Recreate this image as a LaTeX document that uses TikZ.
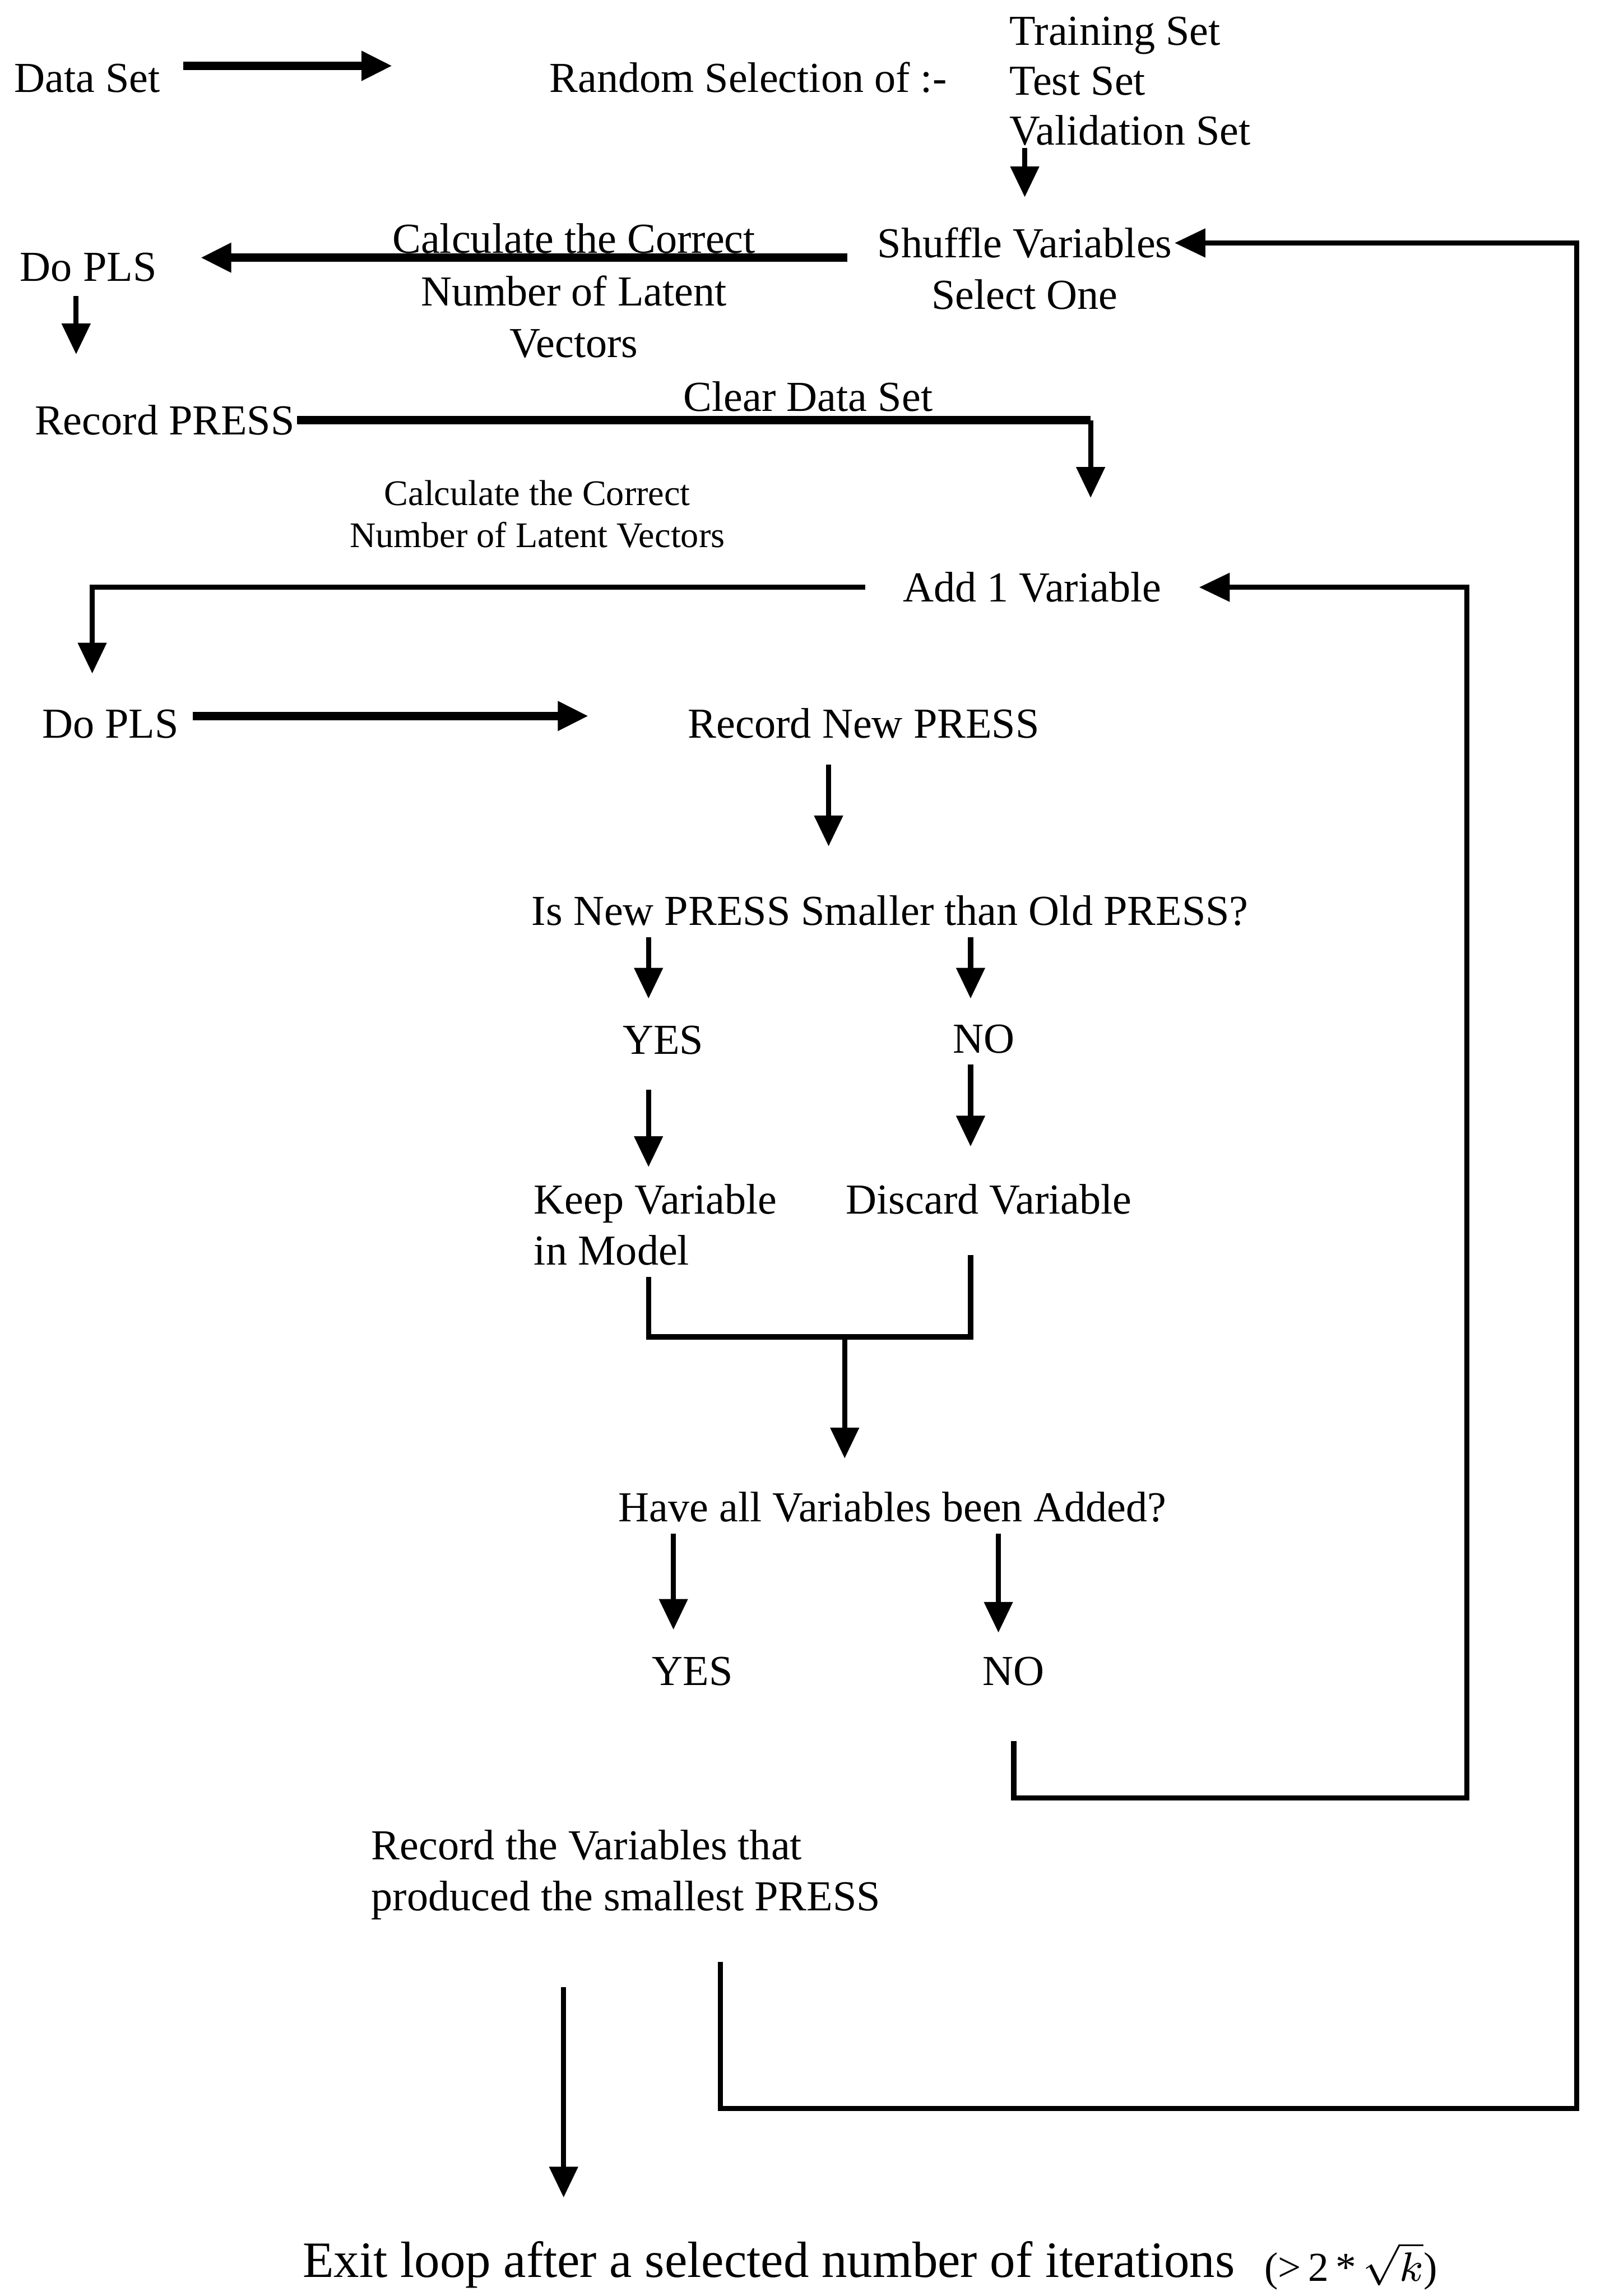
\documentclass[tikz,border=0pt]{standalone}
\usepackage{fontspec}
\setmainfont{Liberation Serif}
\usetikzlibrary{arrows.meta}
\newcommand{\smallsz}{\fontsize{7}{8}\selectfont}
\newcommand{\bigsz}{\fontsize{9.9}{11.5}\selectfont}
\begin{document}
\begin{tikzpicture}[font=\fontsize{8.3}{9.7}\selectfont,
  every node/.style={inner sep=0pt},
  line width=1pt,
  arr/.style={-{Triangle[length=2.1mm,width=1.9mm]}},
  heavy/.style={line width=1.6pt}]
\useasboundingbox (0,0) rectangle (10.96,15.68);
\draw (0.08,15.05) node [anchor=base west] (dataset) {Data Set};
\draw (5.11,15.05) node [anchor=base] (random) {Random Selection of :-};
\draw (6.88,15.37) node [anchor=base west] (training) {Training Set};
\draw (6.88,15.03) node [anchor=base west] (testset) {Test Set};
\draw (6.88,14.69) node [anchor=base west] (validation) {Validation Set};
\draw (7.00,13.92) node [anchor=base] (shuffle) {Shuffle Variables};
\draw (7.00,13.57) node [anchor=base] (selectone) {Select One};
\draw (3.92,13.95) node [anchor=base] (calcA) {Calculate the Correct};
\draw (3.92,13.59) node [anchor=base] (numA) {Number of Latent};
\draw (3.92,13.24) node [anchor=base] (vectors) {Vectors};
\draw (0.12,13.76) node [anchor=base west] (dopls) {Do PLS};
\draw (0.22,12.71) node [anchor=base west] (recpress) {Record PRESS};
\draw (5.52,12.87) node [anchor=base] (cleardata) {Clear Data Set};
\draw (3.67,12.23) node [anchor=base,font=\smallsz] (calcB) {Calculate the Correct};
\draw (3.67,11.94) node [anchor=base,font=\smallsz] (numB) {Number of Latent Vectors};
\draw (7.05,11.57) node [anchor=base] (add) {Add 1 Variable};
\draw (0.27,10.64) node [anchor=base west] (doplsb) {Do PLS};
\draw (5.90,10.64) node [anchor=base] (recnew) {Record New PRESS};
\draw (6.08,9.36) node [anchor=base] (isnew) {Is New PRESS Smaller than Old PRESS?};
\draw (4.53,8.48) node [anchor=base] (yesA) {YES};
\draw (6.72,8.49) node [anchor=base] (noA) {NO};
\draw (3.63,7.39) node [anchor=base west] (keep) {Keep Variable};
\draw (3.63,7.04) node [anchor=base west] (inmodel) {in Model};
\draw (6.755,7.39) node [anchor=base] (discard) {Discard Variable};
\draw (6.095,5.29) node [anchor=base] (haveall) {Have all Variables been Added?};
\draw (4.73,4.17) node [anchor=base] (yesB) {YES};
\draw (6.925,4.17) node [anchor=base] (noB) {NO};
\draw (2.52,2.98) node [anchor=base west] (recvar) {Record the Variables that};
\draw (2.52,2.63) node [anchor=base west] (produced) {produced the smallest PRESS};
\draw (2.05,0.13) node [anchor=base west,font=\bigsz] (exit) {Exit loop after a selected number of iterations};
\draw (8.62,0.10) node [anchor=base west,font=\fontsize{8}{9}\selectfont] (bound) {(>\,2\,*\,$\sqrt{k}$)};

\coordinate (dstip) at (2.68,15.23);
\coordinate (plstip) at (1.37,13.92);
\coordinate (dplstip) at (0.52,13.26);
\coordinate (cleartip) at (7.45,12.28);
\coordinate (plsBtip) at (0.63,11.08);
\coordinate (rnptip) at (4.02,10.79);
\coordinate (isnewtip) at (5.66,9.90);
\coordinate (yesAtip) at (4.43,8.86);
\coordinate (noAtip) at (6.63,8.86);
\coordinate (keeptip) at (4.43,7.71);
\coordinate (discardtip) at (6.63,7.85);
\coordinate (merge) at (5.77,6.55);
\coordinate (yesBtip) at (4.60,4.55);
\coordinate (noBtip) at (6.82,4.53);
\coordinate (noloop) at (10.02,3.40);
\coordinate (recstub) at (4.92,2.28);
\coordinate (recloop) at (10.77,1.28);
\coordinate (exitstub) at (3.85,2.11);

\draw [heavy,arr,shorten <=1.4mm] (dataset.east |- dstip) -- (dstip);
\draw [arr,shorten >=1.9mm] (shuffle.north |- validation.south) -- (shuffle.north);
\draw [heavy,arr,shorten <=1.9mm] (shuffle.base west) -- (plstip);
\draw [arr,shorten <=0.8mm] (dopls.south -| dplstip) -- (dplstip);
\draw [heavy] (recpress.east) -- (recpress.east -| cleartip);
\draw [arr] (recpress.east -| cleartip) -- (cleartip);
\draw [arr,shorten <=2.4mm] (add.west) -| (plsBtip);
\draw [heavy,arr,shorten <=0.8mm] (doplsb.east |- rnptip) -- (rnptip);
\draw [arr,shorten <=1.6mm] (recnew.south -| isnewtip) -- (isnewtip);
\draw [arr,shorten <=0.6mm] (isnew.south -| yesAtip) -- (yesAtip);
\draw [arr,shorten <=0.6mm] (isnew.south -| noAtip) -- (noAtip);
\draw [arr,shorten <=2.2mm] (yesA.south -| keeptip) -- (keeptip);
\draw [arr,shorten <=0.6mm] (noA.south -| discardtip) -- (discardtip);
\draw [shorten <=0.6mm,shorten >=2.6mm] (inmodel.south -| keeptip) |- (merge) -| (discard.south -| discardtip);
\draw [arr,shorten >=2.1mm] (merge) -- (merge |- haveall.north);
\draw [arr,shorten <=0.6mm] (haveall.south -| yesBtip) -- (yesBtip);
\draw [arr,shorten <=0.6mm] (haveall.south -| noBtip) -- (noBtip);
\draw [arr,shorten <=3.6mm,shorten >=2.4mm] (noB.south) |- (noloop) |- (add.east);
\draw [arr] (recstub) |- (recloop) |- (shuffle.east);
\draw [arr,shorten >=2.8mm] (exitstub) -- (exitstub |- exit.north);
\end{tikzpicture}
\end{document}
